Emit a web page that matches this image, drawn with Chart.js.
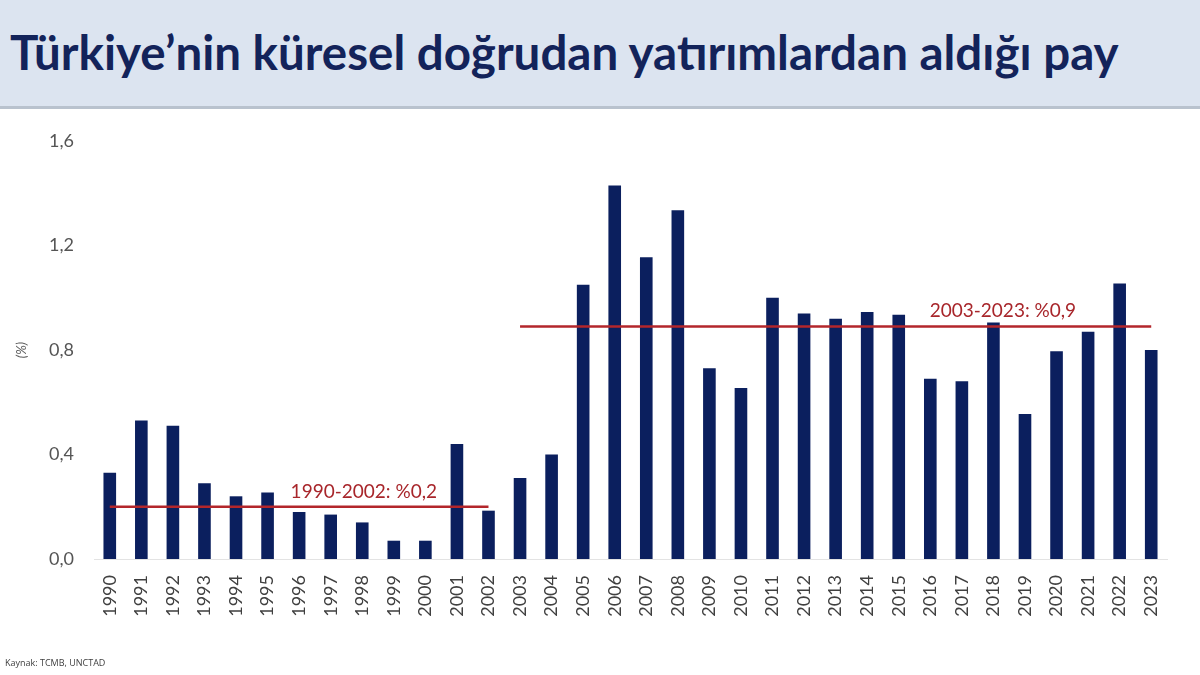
<!DOCTYPE html>
<html lang="tr">
<head>
<meta charset="utf-8">
<script src="https://cdn.jsdelivr.net/npm/chart.js@4.4.1/dist/chart.umd.min.js"></script>
<style>
  html, body { margin: 0; padding: 0; background: #ffffff; }
  body { width: 1200px; height: 675px; position: relative; overflow: hidden; font-family: Lato, "Open Sans", sans-serif; }
  #band { position: absolute; left: 0; top: 0; width: 1200px; height: 106px; background: #dce4f0; border-bottom: 3px solid #b9c2ce; box-sizing: content-box; }
  #title { position: absolute; left: 10px; top: 22px; margin: 0; font-family: Lato, sans-serif; font-weight: 700; font-size: 47.5px; line-height: 60px; color: #13235a; white-space: nowrap; letter-spacing: 0px; }
  #wrap { position: absolute; left: 0; top: 0; width: 1200px; height: 675px; }
  #src { position: absolute; left: 5px; top: 656px; font-size: 9px; color: #404040; font-family: "Open Sans", sans-serif; }
</style>
</head>
<body>
<div id="band"></div>
<h1 id="title">Türkiye’nin küresel doğrudan yatırımlardan aldığı pay</h1>
<div id="wrap"><canvas id="c" width="1200" height="675"></canvas></div>
<div id="src">Kaynak: TCMB, UNCTAD</div>
<script>
// ---- data ----
const years = ['1990','1991','1992','1993','1994','1995','1996','1997','1998','1999','2000','2001','2002','2003','2004','2005','2006','2007','2008','2009','2010','2011','2012','2013','2014','2015','2016','2017','2018','2019','2020','2021','2022','2023'];
const shares = [0.33,0.53,0.51,0.29,0.24,0.255,0.18,0.17,0.14,0.07,0.07,0.44,0.185,0.31,0.40,1.05,1.43,1.155,1.335,0.73,0.655,1.00,0.94,0.92,0.945,0.935,0.69,0.68,0.905,0.555,0.795,0.87,1.055,0.80];
const yTicks = [0, 0.4, 0.8, 1.2, 1.6];
const periodStarts = ['1990', '2003'];
const periodEnds = ['2002', '2023'];
const periodAverages = [0.2, 0.89];
const periodLabels = ['1990-2002: %0,2', '2003-2023: %0,9'];
const periodLabelAt = [8.05, 28.3];

const BAR = '#0b1f5e';
const RED = '#b3262b';

const avgPlugin = {
  id: 'avgLines',
  afterDatasetsDraw(chart) {
    const ctx = chart.ctx, x = chart.scales.x, y = chart.scales.y;
    ctx.save();
    for (let i = 0; i < periodAverages.length; i++) {
      const x0 = x.getPixelForValue(years.indexOf(periodStarts[i]));
      const x1 = x.getPixelForValue(years.indexOf(periodEnds[i]));
      const yy = y.getPixelForValue(periodAverages[i]);
      ctx.strokeStyle = RED;
      ctx.lineWidth = 2.5;
      ctx.beginPath();
      ctx.moveTo(x0, yy);
      ctx.lineTo(x1, yy);
      ctx.stroke();
      ctx.fillStyle = '#a8262b';
      ctx.font = '19px Lato, sans-serif';
      ctx.textAlign = 'center';
      ctx.textBaseline = 'alphabetic';
      ctx.fillText(periodLabels[i], x.getPixelForValue(periodLabelAt[i]), yy - 9);
    }
    ctx.restore();
  }
};

new Chart(document.getElementById('c'), {
  type: 'bar',
  data: {
    labels: years,
    datasets: [{
      data: shares,
      backgroundColor: BAR,
      borderWidth: 0,
      categoryPercentage: 1.0,
      barPercentage: 0.4
    }]
  },
  options: {
    responsive: false,
    animation: false,
    devicePixelRatio: 1,
    layout: { padding: { top: 141, right: 33, left: 14, bottom: 0 } },
    plugins: { legend: { display: false }, tooltip: { enabled: false } },
    scales: {
      x: {
        grid: { display: false, drawTicks: false },
        border: { display: true, color: '#e3e3e3', width: 1 },
        ticks: { minRotation: 90, maxRotation: 90, autoSkip: false, padding: 16, color: '#404040', font: { family: 'Lato, sans-serif', size: 18 } },
        afterFit(s) { s.height = 116; }
      },
      y: {
        min: 0, max: 1.6,
        afterBuildTicks(s) { s.ticks = yTicks.map(v => ({ value: v })); },
        grid: { display: false, drawTicks: false },
        border: { display: false },
        ticks: {
          padding: 20, color: '#555555',
          font: { family: 'Lato, sans-serif', size: 18 },
          callback: v => v.toFixed(1).replace('.', ',')
        },
        title: { display: true, text: '(%)', color: '#595959', font: { family: 'Lato, sans-serif', size: 13, style: 'italic' }, padding: { top: 0, bottom: 0 } },
        afterFit(s) { s.width = 80; }
      }
    }
  },
  plugins: [avgPlugin]
});
</script>
</body>
</html>
